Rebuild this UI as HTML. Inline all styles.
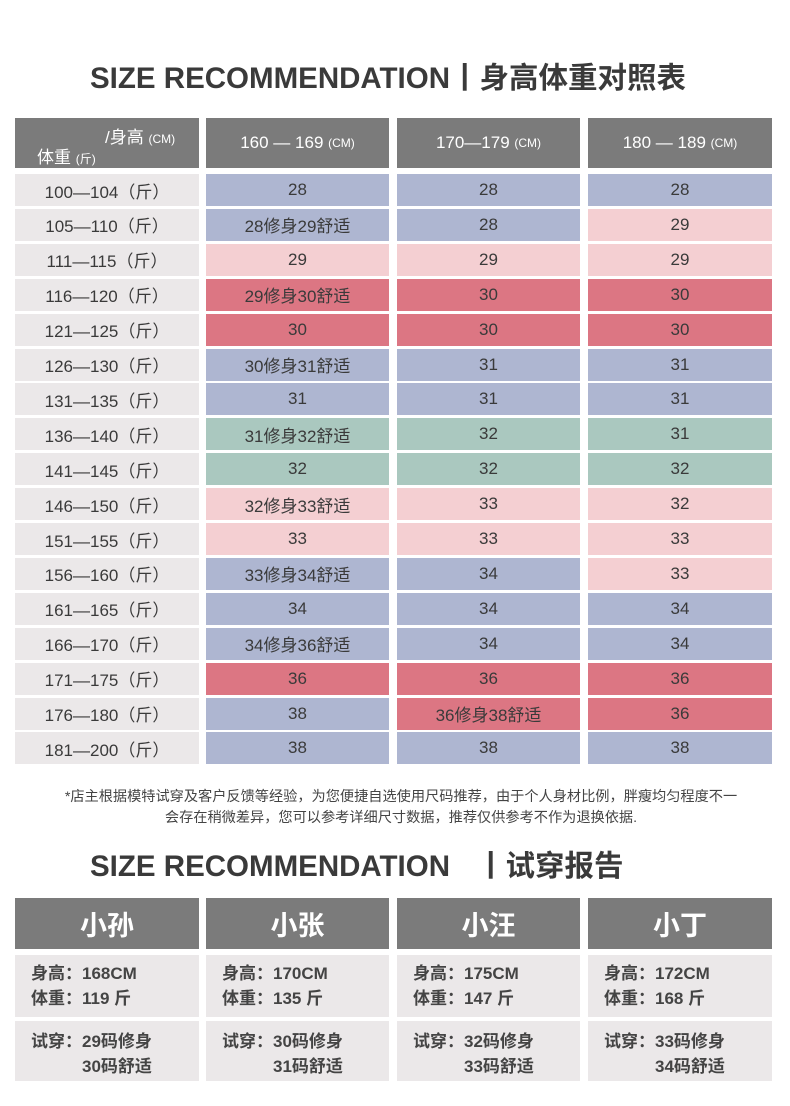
<!DOCTYPE html>
<html><head><meta charset="utf-8"><style>
body{margin:0;width:790px;height:1106px;background:#fff;position:relative;overflow:hidden;font-family:"Liberation Sans","Noto Sans CJK SC",sans-serif;color:#333}
.c{position:absolute;display:flex;align-items:center;justify-content:center;font-size:17px;color:#3a3a3a}
.t{position:absolute;font-weight:bold;font-size:29.5px;color:#3a3a3a;white-space:nowrap}
.sm{font-size:12px}
.B{background:#aeb6d1}.P{background:#f4cfd2}.R{background:#dc7683}.G{background:#aac8bf}.L{background:#ebe8e9}.H{background:#7b7b7b;color:#fff}
.info{position:absolute;background:#ebe8e9;font-size:17px;font-weight:bold;color:#444;line-height:25px;padding-left:16px;box-sizing:border-box}
</style></head><body>
<div class="t" style="left:90px;top:55px">SIZE RECOMMENDATION丨身高体重对照表</div>
<div class="c H" style="left:15px;top:118px;width:184px;height:50px;display:block">
 <div style="position:absolute;left:90px;top:5px;font-size:17px">/身高 <span class="sm">(CM)</span></div>
 <div style="position:absolute;left:22px;top:25px;font-size:17px">体重 <span class="sm">(斤)</span></div>
</div>
<div class="c H" style="left:206px;top:118px;width:183px;height:50px">160 — 169&nbsp;<span class="sm">(CM)</span></div>
<div class="c H" style="left:397px;top:118px;width:183px;height:50px">170—179&nbsp;<span class="sm">(CM)</span></div>
<div class="c H" style="left:588px;top:118px;width:184px;height:50px">180 — 189&nbsp;<span class="sm">(CM)</span></div>
<div id="g"></div>
<div style="position:absolute;left:0;width:802px;top:787px;text-align:center;font-size:14.2px;line-height:21px;color:#444">*店主根据模特试穿及客户反馈等经验，为您便捷自选使用尺码推荐，由于个人身材比例，胖瘦均匀程度不一<br>会存在稍微差异，您可以参考详细尺寸数据，推荐仅供参考不作为退换依据.</div>
<div class="t" style="left:90px;top:843px">SIZE RECOMMENDATION<span style="display:inline-block;width:26px"></span>丨试穿报告</div>
<div id="b"></div>
<script>
var w=[[15,184],[206,183],[397,183],[588,184]];
var rows=[["100—104",["28","B"],["28","B"],["28","B"]],
["105—110",["28修身29舒适","B"],["28","B"],["29","P"]],
["111—115",["29","P"],["29","P"],["29","P"]],
["116—120",["29修身30舒适","R"],["30","R"],["30","R"]],
["121—125",["30","R"],["30","R"],["30","R"]],
["126—130",["30修身31舒适","B"],["31","B"],["31","B"]],
["131—135",["31","B"],["31","B"],["31","B"]],
["136—140",["31修身32舒适","G"],["32","G"],["31","G"]],
["141—145",["32","G"],["32","G"],["32","G"]],
["146—150",["32修身33舒适","P"],["33","P"],["32","P"]],
["151—155",["33","P"],["33","P"],["33","P"]],
["156—160",["33修身34舒适","B"],["34","B"],["33","P"]],
["161—165",["34","B"],["34","B"],["34","B"]],
["166—170",["34修身36舒适","B"],["34","B"],["34","B"]],
["171—175",["36","R"],["36","R"],["36","R"]],
["176—180",["38","B"],["36修身38舒适","R"],["36","R"]],
["181—200",["38","B"],["38","B"],["38","B"]]];
var h="";
rows.forEach(function(r,i){var y=174+i*34.9;
h+='<div class="c L" style="left:15px;top:'+y+'px;width:184px;height:32px">'+r[0]+'（斤）</div>';
for(var k=1;k<4;k++)h+='<div class="c '+r[k][1]+'" style="left:'+w[k][0]+'px;top:'+y+'px;width:'+w[k][1]+'px;height:32px">'+r[k][0]+'</div>';});
document.getElementById("g").innerHTML=h;
var p=[["小孙","168","119","29","30"],["小张","170","135","30","31"],["小汪","175","147","32","33"],["小丁","172","168","33","34"]];
h="";
p.forEach(function(q,k){var x=w[k][0],ww=w[k][1];
h+='<div class="c H" style="left:'+x+'px;top:898px;width:'+ww+'px;height:51px;font-size:27px;font-weight:bold">'+q[0]+'</div>';
h+='<div class="info" style="left:'+x+'px;top:955px;width:'+ww+'px;height:62px;padding-top:6px">身高：'+q[1]+'CM<br>体重：'+q[2]+' 斤</div>';
h+='<div class="info" style="left:'+x+'px;top:1021px;width:'+ww+'px;height:60px;padding-top:8px">试穿：'+q[3]+'码修身<br><span style="padding-left:51px">'+q[4]+'码舒适</span></div>';});
document.getElementById("b").innerHTML=h;
</script>
</body></html>
